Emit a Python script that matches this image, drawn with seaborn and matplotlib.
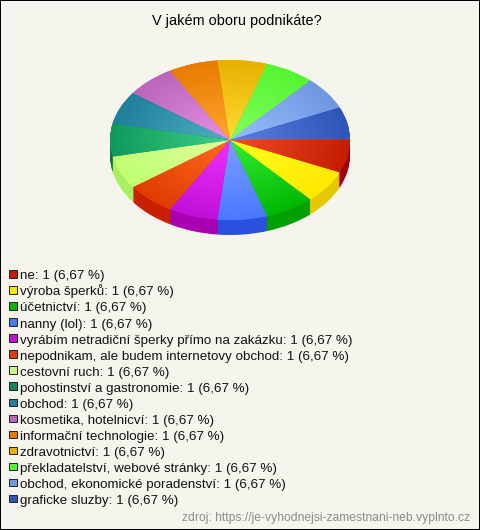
import numpy as np
import seaborn as sns
import matplotlib.pyplot as plt
from matplotlib.colors import LinearSegmentedColormap
from matplotlib.patches import Rectangle

sns.set_style('white')
plt.rcParams['font.family'] = ['Liberation Sans', 'DejaVu Sans']

title = 'V jakém oboru podnikáte?'
source = 'zdroj: https://je-vyhodnejsi-zamestnani-neb.vyplnto.cz'
categories = ['ne', 'výroba šperků', 'účetnictví', 'nanny (lol)',
              'vyrábím netradiční šperky přímo na zakázku',
              'nepodnikam, ale budem internetovy obchod', 'cestovní ruch',
              'pohostinství a gastronomie', 'obchod', 'kosmetika, hotelnicví',
              'informační technologie', 'zdravotnictví',
              'překladatelství, webové stránky',
              'obchod, ekonomické poradenství', 'graficke sluzby']
counts = [1] * 15
percents = ['6,67'] * 15

# colours: outer rim of the top, centre of the top, side wall
rim = sns.color_palette(['#c41e00', '#ffe800', '#00b800', '#4a78ff', '#c010d8',
                         '#e03c00', '#bfff70', '#0f9a5c', '#1f7f9c', '#bb66bb',
                         '#e87c00', '#e8b000', '#55f530', '#6f98e0', '#2f55b8'])
centre = sns.color_palette(['#f04b2a', '#ffff20', '#33ee33', '#7aa0ff', '#f030ff',
                            '#ff6a20', '#e0ffa0', '#3fd088', '#50b0c0', '#e58fe5',
                            '#ffa530', '#ffdd33', '#80ff60', '#96beff', '#5a82e0'])
side = sns.color_palette(['#a00000', '#e6c800', '#00a000', '#2a50e0', '#a800b0',
                          '#c82000', '#a8f060', '#0a7040', '#156070', '#994499',
                          '#c06000', '#c09000', '#40c020', '#5070c0', '#203e90'])
legend_colors = ['#c41e00', '#ffe800', '#00b800', '#4a78ff', '#c010d8',
                 '#e03c00', '#c8ff78', '#0f8a5c', '#1f7f9c', '#bb66bb',
                 '#e87c00', '#e8b000', '#55f530', '#6f98e0', '#2f55b8']
bg = '#f5f5ee'

W, H = 480, 530
fig = plt.figure(figsize=(W / 100, H / 100), dpi=100, facecolor=bg)
fig.patch.set_edgecolor('black')
fig.patch.set_linewidth(1.4)

# pie sits at (230, 140) px with 120 x 80 px radii, 15 px thick
RX, RY, DEPTH = 120, 80, 15
left, right, top, bottom = 105, 355, 55, 240
ax = fig.add_axes([left / W, 1 - bottom / H, (right - left) / W, (bottom - top) / H])

# side wall: stacked copies of the pie going downward
for off in np.arange(DEPTH, 0, -1) / RY:
    ax.pie(counts, colors=side, startangle=0, counterclock=False, center=(0, -off),
           wedgeprops={'edgecolor': 'none', 'linewidth': 0})

# top
wedges, _ = ax.pie(counts, colors=rim, startangle=0, counterclock=False,
                   wedgeprops={'edgecolor': 'none', 'linewidth': 0})
xx, yy = np.meshgrid(np.linspace(-1, 1, 400), np.linspace(-1, 1, 400))
rr = np.clip(np.hypot(xx, yy), 0, 1)
for w, c0, c1 in zip(wedges, centre, rim):
    cmap = LinearSegmentedColormap.from_list('w', [c0, c1])
    im = ax.imshow(rr, cmap=cmap, vmin=0, vmax=1, extent=(-1, 1, -1, 1),
                   origin='lower', aspect='auto', zorder=w.get_zorder() + 1)
    im.set_clip_path(w)

ax.set_aspect('auto')
ax.set_xlim((left - 230) / RX, (right - 230) / RX)
ax.set_ylim((140 - bottom) / RY, (140 - top) / RY)

fig.text(237 / W, 1 - 25 / H, title, ha='center', va='baseline', fontsize=10.45, color='black')
fig.text(470 / W, 1 - 521 / H, source, ha='right', va='baseline', fontsize=8.73, color='#8c8c8c')

# legend rows, 16 px apart
labels = [f'{c}: {n} ({p} %)' for c, n, p in zip(categories, counts, percents)]
for i, (lab, col) in enumerate(zip(labels, legend_colors)):
    y = 270 + i * 16.07
    fig.add_artist(Rectangle((9 / W, 1 - (y + 7.5) / H), 7.5 / W, 7.5 / H, transform=fig.transFigure,
                             facecolor=col, edgecolor='#222222', linewidth=0.7))
    fig.text(20 / W, 1 - (y + 9.3) / H, lab, ha='left', va='baseline', fontsize=9.6, color='#111111')

fig.savefig('out.png', dpi=100, facecolor=bg, edgecolor='black')
